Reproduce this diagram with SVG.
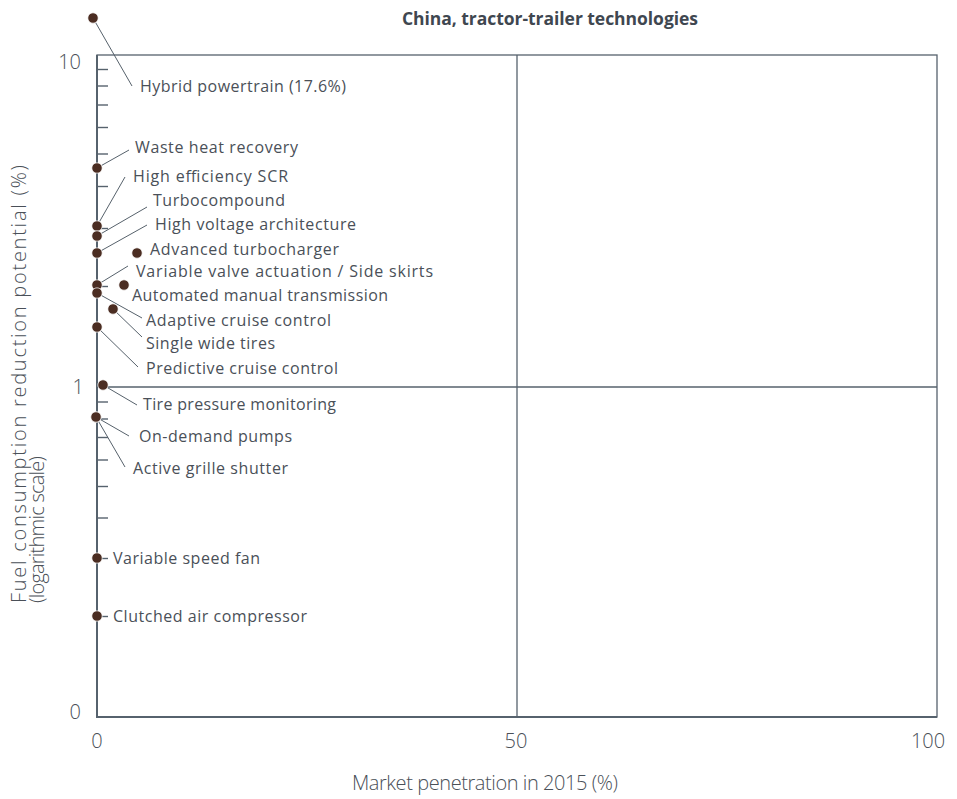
<svg xmlns="http://www.w3.org/2000/svg" width="957" height="799" viewBox="0 0 957 799">
<style>
.lbl{font-family:"Open Sans","DejaVu Sans",sans-serif;font-size:16px;fill:#4a5058}
.ax{font-family:"Open Sans","DejaVu Sans",sans-serif;font-size:20px;fill:#4a5058;font-weight:300}
.ttl{font-family:"Open Sans","DejaVu Sans",sans-serif;font-size:17.5px;font-weight:700;fill:#3f4750}
.frame{stroke:#56626d;stroke-width:1.3;fill:none}
.axis{stroke:#56626d;stroke-width:2;fill:none}
.tick{stroke:#56626d;stroke-width:1.4}
.ld{stroke:#56616b;stroke-width:1;fill:none}
.dot{fill:#4b2d22;stroke:#ffffff;stroke-width:0.7}
</style>
<rect width="957" height="799" fill="#ffffff"/>
<text class="ttl" x="550" y="25" text-anchor="middle" textLength="296">China, tractor-trailer technologies</text>
<g id="axes">
<rect class="frame" x="97" y="55" width="840" height="662"/>
<line class="frame" x1="517" y1="55" x2="517" y2="717"/>
<line class="frame" x1="97" y1="387" x2="937" y2="387"/>
<line class="axis" x1="97" y1="55" x2="97" y2="717"/>
<line class="axis" x1="96" y1="717" x2="937" y2="717"/>
<g class="tick">
<line x1="97" y1="69.5" x2="108" y2="69.5"/>
<line x1="97" y1="86" x2="108" y2="86"/>
<line x1="97" y1="105" x2="108" y2="105"/>
<line x1="97" y1="127.5" x2="108" y2="127.5"/>
<line x1="97" y1="154" x2="108" y2="154"/>
<line x1="97" y1="186.5" x2="108" y2="186.5"/>
<line x1="97" y1="228.5" x2="108" y2="228.5"/>
<line x1="97" y1="286.5" x2="108" y2="286.5"/>
<line x1="97" y1="402" x2="108" y2="402"/>
<line x1="97" y1="419" x2="108" y2="419"/>
<line x1="97" y1="437.5" x2="108" y2="437.5"/>
<line x1="97" y1="460" x2="108" y2="460"/>
<line x1="97" y1="486.5" x2="108" y2="486.5"/>
<line x1="97" y1="518" x2="108" y2="518"/>
<line x1="97" y1="558.5" x2="108" y2="558.5"/>
<line x1="97" y1="616.5" x2="108" y2="616.5"/>
</g>
<text class="ax" x="81" y="69" text-anchor="end">10</text>
<text class="ax" x="84" y="394" text-anchor="end">1</text>
<text class="ax" x="81" y="719" text-anchor="end">0</text>
<text class="ax" x="97" y="748" text-anchor="middle">0</text>
<text class="ax" x="516" y="748" text-anchor="middle">50</text>
<text class="ax" x="928" y="748" text-anchor="middle">100</text>
<text class="ax" x="485" y="790" text-anchor="middle" font-size="19" textLength="266">Market penetration in 2015 (%)</text>
<text class="ax" transform="translate(26,603) rotate(-90)" font-size="21" textLength="438">Fuel consumption reduction potential (%)</text>
<text class="ax" transform="translate(44,603) rotate(-90)" font-size="14" textLength="147">(logarithmic scale)</text>
</g>
<g id="connectors">
<line class="ld" x1="93" y1="18" x2="132" y2="86"/>
<line class="ld" x1="97" y1="168" x2="129" y2="150"/>
<line class="ld" x1="97" y1="226" x2="125" y2="177"/>
<line class="ld" x1="97" y1="236" x2="147" y2="207"/>
<line class="ld" x1="97" y1="253" x2="147" y2="225"/>
<line class="ld" x1="97" y1="285" x2="128" y2="266"/>
<line class="ld" x1="97" y1="293" x2="142" y2="318"/>
<line class="ld" x1="113" y1="309" x2="142" y2="337"/>
<line class="ld" x1="97" y1="327" x2="138" y2="367"/>
<line class="ld" x1="103" y1="385" x2="137" y2="405"/>
<line class="ld" x1="96" y1="417" x2="129" y2="436"/>
<line class="ld" x1="96" y1="417" x2="125" y2="467"/>
</g>
<g id="hybrid"><circle class="dot" cx="93" cy="18" r="5.2"/><text class="lbl" x="140" y="92" textLength="206">Hybrid powertrain (17.6%)</text></g>
<g id="waste-heat"><circle class="dot" cx="97" cy="168" r="5.2"/><text class="lbl" x="135" y="153" textLength="163">Waste heat recovery</text></g>
<g id="scr"><circle class="dot" cx="97" cy="226" r="5.2"/><text class="lbl" x="133" y="182" textLength="155">High efficiency SCR</text></g>
<g id="turbocompound"><circle class="dot" cx="97" cy="236" r="5.2"/><text class="lbl" x="153" y="206" textLength="132">Turbocompound</text></g>
<g id="high-voltage"><circle class="dot" cx="97" cy="253" r="5.2"/><text class="lbl" x="155" y="230" textLength="201">High voltage architecture</text></g>
<g id="adv-turbo"><circle class="dot" cx="137" cy="253" r="5.2"/><text class="lbl" x="150" y="255" textLength="189">Advanced turbocharger</text></g>
<g id="vva"><circle class="dot" cx="97" cy="285" r="5.2"/><text class="lbl" x="136" y="277" textLength="297">Variable valve actuation / Side skirts</text></g>
<g id="amt"><circle class="dot" cx="124" cy="285" r="5.2"/><text class="lbl" x="132" y="301" textLength="256">Automated manual transmission</text></g>
<g id="acc"><circle class="dot" cx="97" cy="293" r="5.2"/><text class="lbl" x="146" y="326" textLength="185">Adaptive cruise control</text></g>
<g id="swt"><circle class="dot" cx="113" cy="309" r="5.2"/><text class="lbl" x="146" y="349" textLength="129">Single wide tires</text></g>
<g id="pcc"><circle class="dot" cx="97" cy="327" r="5.2"/><text class="lbl" x="146" y="374" textLength="192">Predictive cruise control</text></g>
<g id="tpm"><circle class="dot" cx="103" cy="385" r="5.2"/><text class="lbl" x="143" y="410" textLength="193">Tire pressure monitoring</text></g>
<g id="pumps"><circle class="dot" cx="96" cy="417" r="5.2"/><text class="lbl" x="139" y="442" textLength="153">On-demand pumps</text></g>
<g id="grille"><circle class="dot" cx="96" cy="417" r="5.2"/><text class="lbl" x="133" y="474" textLength="155">Active grille shutter</text></g>
<g id="fan"><circle class="dot" cx="97" cy="558" r="5.2"/><text class="lbl" x="113" y="564" textLength="147">Variable speed fan</text></g>
<g id="compressor"><circle class="dot" cx="97" cy="616" r="5.2"/><text class="lbl" x="113" y="622" textLength="194">Clutched air compressor</text></g>
</svg>
